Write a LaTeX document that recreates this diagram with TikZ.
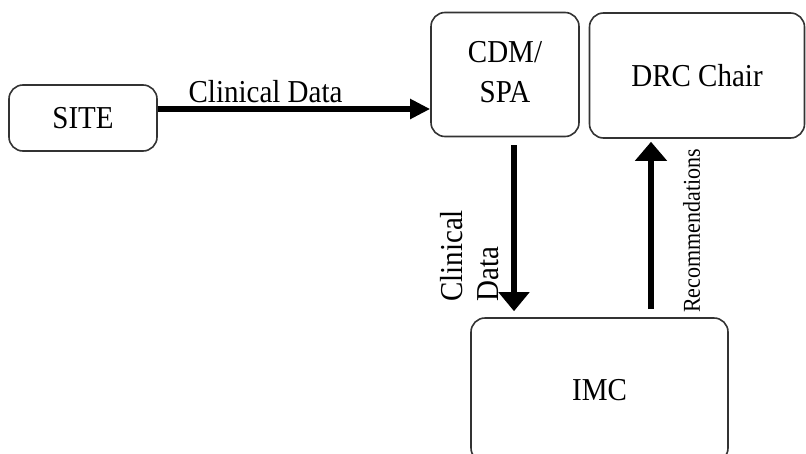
\documentclass[tikz,border=0pt]{standalone}
\usepackage{fontspec}
\setmainfont{Liberation Serif}
\usetikzlibrary{arrows.meta,calc}
\newcommand\tallt[1]{\scalebox{1}[1.1]{#1}}
\begin{document}
\begin{tikzpicture}[x=1pt,y=-1pt,
  box/.style={draw=black!80,line width=1.6pt,rounded corners=14pt,inner sep=0pt,
    font=\fontsize{29}{37}\selectfont,align=center},
  flow/.style={line width=6pt},
  lbl/.style={inner sep=0pt,font=\fontsize{29}{32}\selectfont}]
\useasboundingbox (0,0) rectangle (806,453);
\clip (0,0) rectangle (806,453);
\node[box,minimum width=148pt,minimum height=66pt] (site) at (83,118) {\tallt{SITE}};
\node[box,minimum width=148pt,minimum height=124pt] (cdm) at (505,74.5)
  {\tallt{\begin{tabular}{@{}c@{}}CDM/\\SPA\end{tabular}}};
\node[box,minimum width=215pt,minimum height=125pt] (drc) at (697,75.5) {\tallt{DRC Chair}};
\node[box,minimum width=257pt,minimum height=144pt] (imc) at (599.5,390) {\tallt{IMC}};
\draw[flow,-{Triangle[length=20pt,width=19pt]}] ($(site.east)+(0,-9)$) -- ($(cdm.west)+(0,34.5)$);
\draw[flow,-{Triangle[length=19pt,width=30pt]}] ($(cdm.south)+(9,8)$) -- ($(imc.north)+(-85.5,-6)$);
\draw[flow,-{Triangle[length=19pt,width=31pt]}] ($(imc.north)+(51.5,-8)$) -- ($(drc.south)+(-46,3)$);
\node[lbl,anchor=base] (l1) at (265.5,102) {\tallt{Clinical Data}};
\node[lbl,rotate=90,anchor=north west] (l2) at (438,302)
  {\tallt{\begin{tabular}{@{}l@{}}Clinical\\Data\end{tabular}}};
\node[inner sep=0pt,font=\fontsize{22}{26}\selectfont,rotate=90,anchor=north west] (l3) at (683,313) {\tallt{Recommendations}};
\end{tikzpicture}
\end{document}
